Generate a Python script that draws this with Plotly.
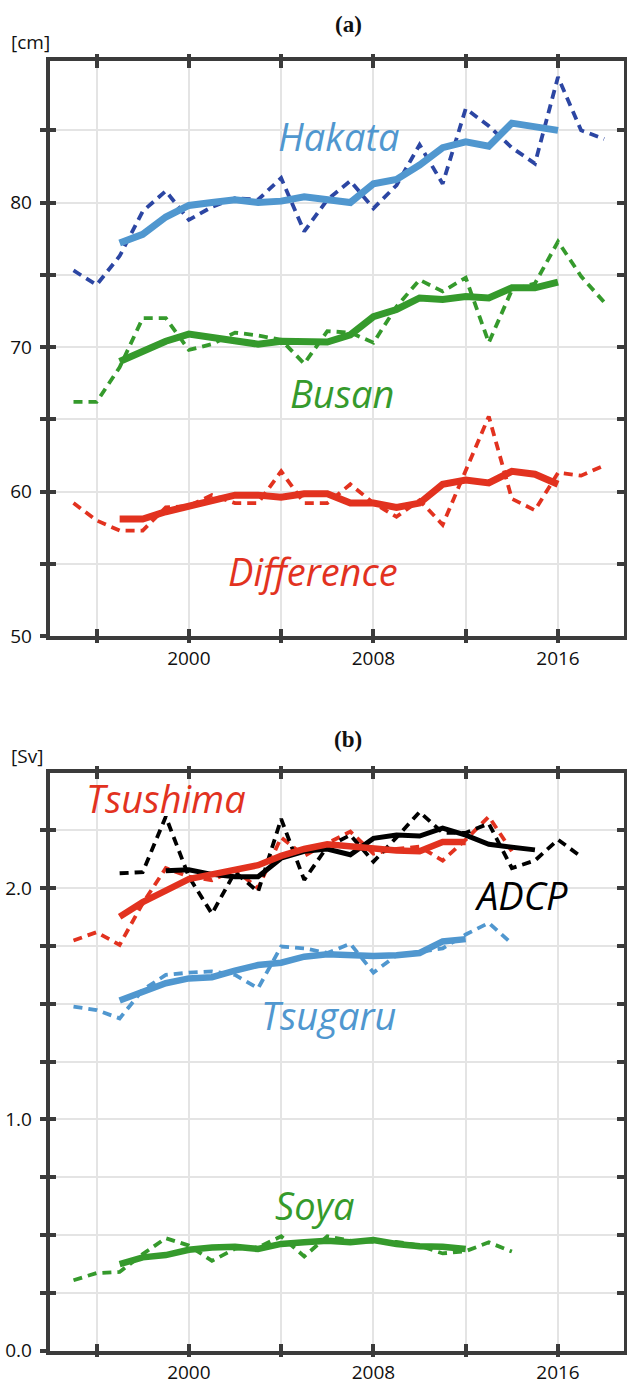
import plotly.graph_objects as go

# ---------------- data ----------------
# Panel (a): sea level [cm]
years_a_annual = list(range(1995, 2019))
years_a_smooth = list(range(1997, 2017))
hakata_annual = [75.3, 74.3, 76.3, 79.4, 80.8, 78.8, 79.7, 80.3, 80.2, 81.7, 78.0, 80.2,
                 81.5, 79.6, 81.2, 84.0, 81.3, 86.5, 85.3, 83.8, 82.7, 88.7, 85.0, 84.4]
hakata_smooth = [77.2, 77.8, 79.0, 79.8, 80.0, 80.2, 80.0, 80.1, 80.4, 80.2,
                 80.0, 81.3, 81.6, 82.6, 83.8, 84.2, 83.9, 85.5, 85.3, 85.0]
busan_annual = [66.2, 66.2, 68.6, 72.0, 72.0, 69.8, 70.2, 71.0, 70.8, 70.5, 68.85, 71.1,
                71.0, 70.3, 72.8, 74.65, 73.85, 74.8, 70.3, 73.95, 74.4, 77.3, 74.9, 73.1]
busan_smooth = [69.0, 69.65, 70.4, 70.9, 70.7, 70.4, 70.2, 70.4, 70.4, 70.35,
                70.85, 72.1, 72.6, 73.4, 73.3, 73.5, 73.4, 74.1, 74.1, 74.5]
diff_annual = [59.2, 58.0, 57.3, 57.3, 58.9, 59.0, 59.75, 59.2, 59.2, 61.4, 59.2, 59.2,
               60.5, 59.2, 58.25, 59.4, 57.7, 61.4, 65.2, 59.5, 58.7, 61.3, 61.1, 61.8]
diff_smooth = [58.1, 58.1, 58.6, 58.95, 59.3, 59.75, 59.75, 59.6, 59.85, 59.85,
               59.2, 59.2, 58.9, 59.2, 60.5, 60.8, 60.6, 61.4, 61.2, 60.5]

# Panel (b): volume transport [Sv]
years_b_annual = list(range(1995, 2015))
years_b_smooth = list(range(1997, 2013))
tsushima_annual = [1.774, 1.81, 1.755, 1.935, 2.087, 2.05, 2.035, 2.08, 2.0, 2.22,
                   2.14, 2.195, 2.245, 2.15, 2.17, 2.18, 2.12, 2.21, 2.31, 2.16]
tsushima_smooth = [1.877, 1.94, 1.99, 2.04, 2.06, 2.08, 2.1, 2.14, 2.17, 2.19,
                   2.18, 2.166, 2.163, 2.16, 2.2, 2.2]
years_adcp_annual = list(range(1997, 2018))
years_adcp_smooth = list(range(1999, 2016))
adcp_annual = [2.065, 2.07, 2.31, 2.05, 1.89, 2.07, 1.985, 2.3, 2.036, 2.18, 2.23,
               2.115, 2.22, 2.33, 2.24, 2.24, 2.28, 2.087, 2.12, 2.21, 2.137]
adcp_smooth = [2.076, 2.08, 2.06, 2.05, 2.05, 2.13, 2.16, 2.17, 2.145, 2.216, 2.23,
               2.226, 2.26, 2.23, 2.19, 2.18, 2.166]
tsugaru_annual = [1.488, 1.473, 1.437, 1.56, 1.625, 1.635, 1.64, 1.625, 1.567, 1.748,
                  1.74, 1.72, 1.76, 1.635, 1.71, 1.725, 1.74, 1.8, 1.85, 1.76]
tsugaru_smooth = [1.514, 1.553, 1.589, 1.61, 1.615, 1.644, 1.668, 1.678, 1.704, 1.714,
                  1.71, 1.707, 1.71, 1.72, 1.77, 1.78]
soya_annual = [0.304, 0.335, 0.34, 0.417, 0.486, 0.454, 0.388, 0.44, 0.446, 0.494,
               0.407, 0.494, 0.475, 0.47, 0.47, 0.454, 0.42, 0.43, 0.468, 0.428]
soya_smooth = [0.374, 0.403, 0.413, 0.436, 0.446, 0.449, 0.439, 0.461, 0.468, 0.475,
               0.468, 0.478, 0.461, 0.451, 0.449, 0.439]

x_tickvals = [1996, 2000, 2004, 2008, 2012, 2016]
x_ticktext = ["", "2000", "", "2008", "", "2016"]
ya_tickvals = [50, 55, 60, 65, 70, 75, 80, 85]
ya_ticktext = ["50", "", "60", "", "70", "", "80", ""]
yb_tickvals = [0, 0.25, 0.5, 0.75, 1.0, 1.25, 1.5, 1.75, 2.0, 2.25]
yb_ticktext = ["0.0", "", "", "", "1.0", "", "", "", "2.0", ""]

# ---------------- styles ----------------
LIGHTBLUE = "#5097cf"
DARKBLUE = "#2c46a3"
GREEN = "#359a2c"
RED = "#e2321f"
BLACK = "#000000"
AXCOL = "#3b3b3b"
GRID = "#e4e4e4"
DASH = "9px,6px"
DW = 3.8
LABEL_FONT = "Open Sans, Lato, sans-serif"

fig = go.Figure()


def add(x, y, color, width, dash, xa, ya):
    fig.add_trace(go.Scatter(x=x, y=y, mode="lines", xaxis=xa, yaxis=ya,
                             line=dict(color=color, width=width, dash=dash),
                             showlegend=False, hoverinfo="skip"))


# Panel (a)
add(years_a_annual, hakata_annual, DARKBLUE, DW, DASH, "x", "y")
add(years_a_annual, busan_annual, GREEN, DW, DASH, "x", "y")
add(years_a_annual, diff_annual, RED, DW, DASH, "x", "y")
add(years_a_smooth, hakata_smooth, LIGHTBLUE, 7, "solid", "x", "y")
add(years_a_smooth, busan_smooth, GREEN, 7, "solid", "x", "y")
add(years_a_smooth, diff_smooth, RED, 7, "solid", "x", "y")

# Panel (b)
add(years_b_annual, tsushima_annual, RED, DW, DASH, "x2", "y2")
add(years_adcp_annual, adcp_annual, BLACK, DW, DASH, "x2", "y2")
add(years_b_annual, tsugaru_annual, LIGHTBLUE, DW, DASH, "x2", "y2")
add(years_b_annual, soya_annual, GREEN, DW, DASH, "x2", "y2")
add(years_adcp_smooth, adcp_smooth, BLACK, 5, "solid", "x2", "y2")
add(years_b_smooth, tsushima_smooth, RED, 6.5, "solid", "x2", "y2")
add(years_b_smooth, tsugaru_smooth, LIGHTBLUE, 6.5, "solid", "x2", "y2")
add(years_b_smooth, soya_smooth, GREEN, 6.5, "solid", "x2", "y2")

H = 1385.0
W = 627.0
xdom = [49.5 / W, 624.0 / W]
ydom_a = [1 - 636.0 / H, 1 - 61.0 / H]
ydom_b = [1 - 1350.5 / H, 1 - 772.7 / H]
XRANGE = [1993.96, 2018.86]
YA_RANGE = [50, 89.8]
YB_RANGE = [0, 2.5]

tickfont = dict(family="Open Sans, sans-serif", size=19, color="#111111")


def xax(anchor, labels=True):
    return dict(domain=xdom, range=XRANGE, anchor=anchor, tickmode="array",
                tickvals=x_tickvals, ticktext=x_ticktext, showgrid=True,
                gridcolor=GRID, gridwidth=2, zeroline=False, showline=True,
                linecolor=AXCOL, linewidth=3.5, mirror="ticks", ticks="inside",
                ticklen=7, tickwidth=3.5, tickcolor=AXCOL, tickfont=tickfont,
                showticklabels=labels, ticklabelstandoff=2, automargin=False)


def yax(anchor, dom, rng, vals, text):
    return dict(domain=dom, range=rng, anchor=anchor, tickmode="array",
                tickvals=vals, ticktext=text, showgrid=True, gridcolor=GRID,
                gridwidth=2, zeroline=False, showline=True, linecolor=AXCOL,
                linewidth=3.5, mirror="ticks", ticks="inside", ticklen=7,
                tickwidth=3.5, tickcolor=AXCOL, tickfont=tickfont,
                ticklabelstandoff=10, automargin=False)


def overlay_x(over, anchor):
    return dict(overlaying=over, anchor=anchor, domain=xdom, range=XRANGE,
                tickmode="array", tickvals=x_tickvals, showticklabels=False,
                showgrid=False, zeroline=False, showline=True, linecolor=AXCOL,
                linewidth=3.5, mirror="ticks", ticks="outside", ticklen=3,
                tickwidth=3.5, tickcolor=AXCOL, automargin=False)


def overlay_y(over, anchor, dom, rng, vals):
    return dict(overlaying=over, anchor=anchor, domain=dom, range=rng,
                tickmode="array", tickvals=vals, showticklabels=False,
                showgrid=False, zeroline=False, showline=True, linecolor=AXCOL,
                linewidth=3.5, mirror="ticks", ticks="outside", ticklen=6,
                tickwidth=3.5, tickcolor=AXCOL, automargin=False)


# invisible traces so overlay axes get drawn
fig.add_trace(go.Scatter(x=[XRANGE[0]], y=[YA_RANGE[0]], xaxis="x3", yaxis="y3",
                         mode="markers", marker=dict(opacity=0), showlegend=False,
                         hoverinfo="skip"))
fig.add_trace(go.Scatter(x=[XRANGE[0]], y=[YB_RANGE[0]], xaxis="x4", yaxis="y4",
                         mode="markers", marker=dict(opacity=0), showlegend=False,
                         hoverinfo="skip"))

annotations = []


def label(text, x, y, color, xref, yref):
    annotations.append(dict(text=text, x=x, y=y, xref=xref, yref=yref,
                            showarrow=False, xanchor="center", yanchor="middle",
                            font=dict(family=LABEL_FONT, size=38, color=color,
                                      style="italic")))


label("Hakata", 2006.5, 84.6, LIGHTBLUE, "x", "y")
label("Busan", 2006.65, 66.8, GREEN, "x", "y")
label("Difference", 2005.4, 54.5, RED, "x", "y")
label("Tsushima", 1999.0, 2.39, RED, "x2", "y2")
label("ADCP", 2014.4, 1.97, BLACK, "x2", "y2")
label("Tsugaru", 2006.05, 1.45, LIGHTBLUE, "x2", "y2")
label("Soya", 2005.45, 0.63, GREEN, "x2", "y2")

for txt, py in [("(a)", 24), ("(b)", 739)]:
    annotations.append(dict(text="<b>" + txt + "</b>", x=348 / W, y=1 - py / H,
                            xref="paper", yref="paper", showarrow=False,
                            xanchor="center", yanchor="middle",
                            font=dict(family="Liberation Serif, Times New Roman, serif",
                                      size=23, color="#111111")))
for txt, px, py in [("[cm]", 31, 42), ("[Sv]", 27, 756)]:
    annotations.append(dict(text=txt, x=px / W, y=1 - py / H, xref="paper",
                            yref="paper", showarrow=False, xanchor="center",
                            yanchor="middle",
                            font=dict(family="Open Sans, sans-serif", size=19,
                                      color="#111111")))

fig.update_layout(
    width=627, height=1385,
    margin=dict(l=0, r=0, t=0, b=0, autoexpand=False),
    paper_bgcolor="white", plot_bgcolor="white",
    showlegend=False,
    xaxis=xax("y"),
    yaxis=yax("x", ydom_a, YA_RANGE, ya_tickvals, ya_ticktext),
    xaxis2=xax("y2"),
    yaxis2=yax("x2", ydom_b, YB_RANGE, yb_tickvals, yb_ticktext),
    xaxis3=overlay_x("x", "y3"),
    yaxis3=overlay_y("y", "x3", ydom_a, YA_RANGE, ya_tickvals),
    xaxis4=overlay_x("x2", "y4"),
    yaxis4=overlay_y("y2", "x4", ydom_b, YB_RANGE, yb_tickvals),
    annotations=annotations,
)

fig.write_html(
    "out.html",
    config={"responsive": False, "displayModeBar": False},
    default_width="627px",
    default_height="1385px",
    post_script=(
        "document.documentElement.style.margin='0';"
        "document.body.style.margin='0';"
        "document.body.style.padding='0';"
        "document.body.style.overflow='hidden';"
    ),
)
